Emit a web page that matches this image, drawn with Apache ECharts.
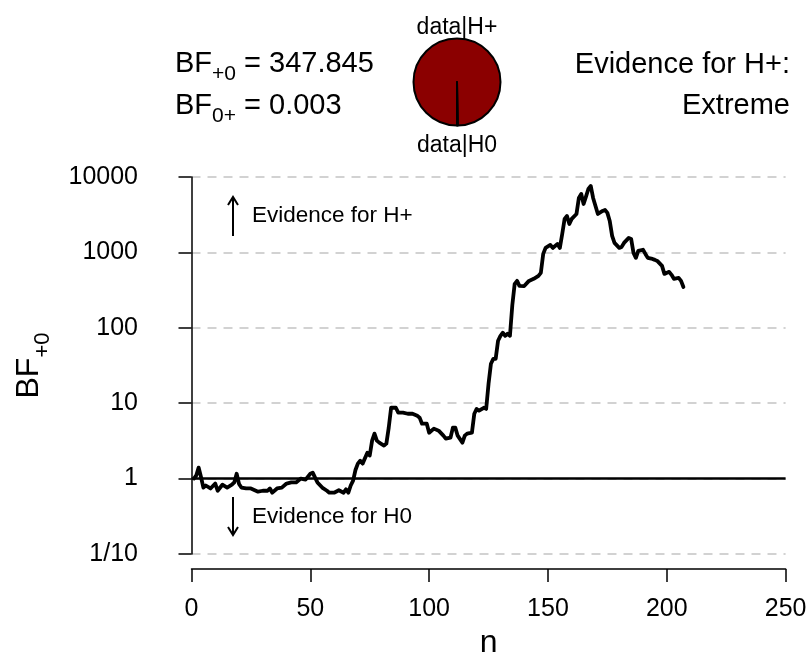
<!DOCTYPE html>
<html>
<head>
<meta charset="utf-8">
<script src="https://cdn.jsdelivr.net/npm/echarts@6/dist/echarts.min.js"></script>
<style>html,body{margin:0;padding:0;background:#fff}#c{width:808px;height:660px}</style>
</head>
<body>
<div id="c"></div>
<script>
// Sequential Bayes factor (n, BF+0)
var nVals = [1,2,3,4,5,6,8,10,11,13,15,17,18,19,20,21,23,25,28,30,32,33,34,36,38,40,42,44,46,48,50,51,52,53,55,57,58,60,62,64,65,66,67,68,69,70,71,72,74,75,76,77,78,79,81,82,83,84,86,87,89,91,93,95,96,97,99,100,102,104,106,107,109,110,111,112,114,115,116,118,119,120,121,123,124,125,126,127,128,129,130,131,132,133,134,135,136,137,138,140,142,144,146,147,148,149,151,152,154,155,156,157,158,159,160,162,163,164,165,166,167,168,169,170,171,173,174,175,176,177,178,180,181,182,184,185,186,187,188,190,191,192,194,195,196,198,199,201,202,203,205,206,207];
var bfVals = [1.0,1.1,1.4,1.05,0.76,0.81,0.74,0.86,0.69,0.83,0.76,0.83,0.89,1.16,0.85,0.76,0.74,0.74,0.67,0.69,0.69,0.74,0.65,0.74,0.76,0.86,0.89,0.89,1.0,0.97,1.16,1.2,1.03,0.89,0.76,0.69,0.65,0.65,0.7,0.65,0.72,0.65,0.81,0.94,1.3,1.58,1.73,1.58,2.21,2.02,3.19,3.95,3.19,3.0,2.74,2.91,4.74,8.7,8.7,7.5,7.5,7.25,7.25,6.8,6.43,5.35,5.35,4.06,4.6,4.32,3.71,3.39,3.49,4.74,4.74,3.71,3.0,3.71,3.95,4.06,7.25,8.4,7.96,8.7,8.4,18.1,33.4,38.8,38.8,67.3,78.3,85.9,78.3,83.5,78.3,200,383,419,360,358,419,446,489,535,955,1147,1257,1147,1290,1147,1757,2779,3043,2384,2779,3235,5271,5960,4385,5500,6937,7600,5271,4128,3235,3548,3659,3340,2612,1655,1336,1147,1183,1336,1556,1510,985,846,1047,1085,955,846,820,796,771,662,519,552,504,446,459,419,347.845];
var xTicks = [0, 50, 100, 150, 200, 250];
var yTicks = [0.1, 1, 10, 100, 1000, 10000];
var yTickLabels = ['1/10', '1', '10', '100', '1000', '10000'];
var pieNames = ['data|H+', 'data|H0'];
var pieValues = [347.845, 1];
var bfText = ['347.845', '0.003'];
var evidenceText = ['Evidence for H+:', 'Extreme'];
var arrowTexts = ['Evidence for H+', 'Evidence for H0'];

var FONT = '"Liberation Sans", Arial, Helvetica, sans-serif';
var chart = echarts.init(document.getElementById('c'), null, {renderer: 'canvas'});
var lineData = nVals.map(function (n, i) { return [n, bfVals[i]]; });

var option = {
  backgroundColor: '#ffffff',
  animation: false,
  textStyle: {fontFamily: FONT, color: '#000'},
  grid: {left: 191.5, right: 22.4, top: 177, bottom: 106, containLabel: false, outerBoundsMode: 'none'},
  xAxis: {
    type: 'value', min: 0, max: 250, interval: 50, offset: 15,
    name: 'n', nameLocation: 'middle', nameGap: 50,
    nameTextStyle: {fontSize: 32, color: '#000', fontFamily: FONT},
    axisLine: {show: true, lineStyle: {color: '#000', width: 1.5}},
    axisTick: {show: true, length: 13, lineStyle: {color: '#000', width: 1.5}},
    axisLabel: {fontSize: 25, color: '#000', margin: 28, fontFamily: FONT},
    splitLine: {show: false}
  },
  yAxis: {
    type: 'log', logBase: 10, min: 0.1, max: 10000, offset: 24.5,
    name: '{a|BF}{b|+0}', nameLocation: 'middle', nameGap: 113, nameRotate: 90,
    nameTextStyle: {
      color: '#000', fontFamily: FONT,
      rich: {
        a: {fontSize: 32, fontFamily: FONT, color: '#000', verticalAlign: 'bottom', padding: [0, 0, 9, 0]},
        b: {fontSize: 22, fontFamily: FONT, color: '#000', verticalAlign: 'bottom'}
      }
    },
    axisLine: {show: true, lineStyle: {color: '#000', width: 1.5}},
    axisTick: {show: true, length: 13, lineStyle: {color: '#000', width: 1.5}},
    axisLabel: {
      fontSize: 25, color: '#000', margin: 29, fontFamily: FONT,
      formatter: function (v) {
        for (var i = 0; i < yTicks.length; i++) {
          if (Math.abs(Math.log10(v) - Math.log10(yTicks[i])) < 1e-6) return yTickLabels[i];
        }
        return '';
      }
    },
    splitLine: {show: true, lineStyle: {color: '#c4c4c4', width: 1.5, type: [9, 7]}}
  },
  series: [
    {
      type: 'line', data: lineData, showSymbol: false, symbol: 'none',
      lineStyle: {color: '#000', width: 3.8, join: 'round', cap: 'round'}, z: 5,
      markLine: {
        silent: true, symbol: 'none', label: {show: false},
        lineStyle: {color: '#000', width: 2.5, type: 'solid'},
        data: [{yAxis: 1}]
      }
    },
    {
      type: 'pie', center: [457, 82], radius: 43.5, startAngle: 270, clockwise: true,
      silent: true, label: {show: false}, labelLine: {show: false},
      itemStyle: {borderColor: '#000', borderWidth: 2},
      data: [
        {name: pieNames[0], value: pieValues[0], itemStyle: {color: '#8b0000'}},
        {name: pieNames[1], value: pieValues[1], itemStyle: {color: '#ffffff'}}
      ]
    }
  ],
  graphic: [
    {type: 'text', left: 175, top: 49, style: {
      text: '{a|BF}{b|+0}{a| = ' + bfText[0] + '}', fontFamily: FONT,
      rich: {a: {fontSize: 29, fontFamily: FONT, fill: '#000', verticalAlign: 'bottom', padding: [0, 0, 7, 0]},
             b: {fontSize: 21, fontFamily: FONT, fill: '#000', verticalAlign: 'bottom'}}
    }},
    {type: 'text', left: 175, top: 91, style: {
      text: '{a|BF}{b|0+}{a| = ' + bfText[1] + '}', fontFamily: FONT,
      rich: {a: {fontSize: 29, fontFamily: FONT, fill: '#000', verticalAlign: 'bottom', padding: [0, 0, 7, 0]},
             b: {fontSize: 21, fontFamily: FONT, fill: '#000', verticalAlign: 'bottom'}}
    }},
    {type: 'text', x: 457, y: 28, style: {text: pieNames[0], font: '23px ' + FONT, fill: '#000', align: 'center', verticalAlign: 'middle'}},
    {type: 'text', x: 457, y: 146, style: {text: pieNames[1], font: '23px ' + FONT, fill: '#000', align: 'center', verticalAlign: 'middle'}},
    {type: 'text', x: 790, y: 65, style: {text: evidenceText[0], font: '29px ' + FONT, fill: '#000', align: 'right', verticalAlign: 'middle'}},
    {type: 'text', x: 790, y: 106, style: {text: evidenceText[1], font: '29px ' + FONT, fill: '#000', align: 'right', verticalAlign: 'middle'}},
    // arrows
    {type: 'line', shape: {x1: 233, y1: 236, x2: 233, y2: 198}, style: {stroke: '#000', lineWidth: 2}},
    {type: 'polyline', shape: {points: [[228, 205], [233, 197], [238, 205]]}, style: {stroke: '#000', lineWidth: 2, fill: null}},
    {type: 'text', x: 252, y: 216, style: {text: arrowTexts[0], font: '22.5px ' + FONT, fill: '#000', align: 'left', verticalAlign: 'middle'}},
    {type: 'line', shape: {x1: 233, y1: 497, x2: 233, y2: 535}, style: {stroke: '#000', lineWidth: 2}},
    {type: 'polyline', shape: {points: [[228, 527], [233, 535], [238, 527]]}, style: {stroke: '#000', lineWidth: 2, fill: null}},
    {type: 'text', x: 252, y: 517, style: {text: arrowTexts[1], font: '22.5px ' + FONT, fill: '#000', align: 'left', verticalAlign: 'middle'}}
  ]
};
chart.setOption(option);
</script>
</body>
</html>
